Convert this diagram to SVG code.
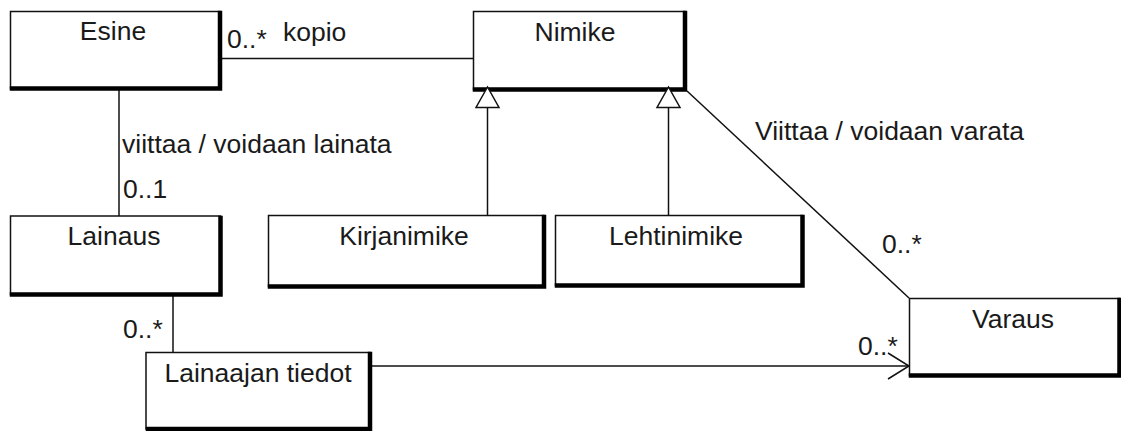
<svg xmlns="http://www.w3.org/2000/svg" width="1121" height="431" viewBox="0 0 1121 431">
  <style>
    .box { fill: #ffffff; stroke: #111111; stroke-width: 1.5; }
    .shadow { fill: none; stroke: #000000; stroke-width: 4.5; stroke-linecap: square; }
    .lbl { font-family: "Liberation Sans", Arial, sans-serif; font-size: 26.5px; fill: #1a1a1a; }
    .mid { text-anchor: middle; }
    .line { fill: none; stroke: #111111; stroke-width: 1.5; }
    .gen { fill: #ffffff; stroke: #111111; stroke-width: 1.5; }
  </style>
  <defs>
    <marker id="open" markerWidth="26" markerHeight="30" refX="24" refY="14" orient="auto" markerUnits="userSpaceOnUse">
      <path d="M 3 1 L 24 14 L 3 27" fill="none" stroke="#111111" stroke-width="1.5"/>
    </marker>
  </defs>

  <rect width="1121" height="431" fill="#ffffff"/>

  <!-- associations and generalizations -->
  <g id="connectors">
    <line class="line" x1="220" y1="58.5" x2="473" y2="58.5"/>
    <line class="line" x1="119" y1="89" x2="119" y2="216"/>
    <line class="line" x1="487.5" y1="107" x2="487.5" y2="215"/>
    <line class="line" x1="668.5" y1="107" x2="668.5" y2="215"/>
    <line class="line" x1="687" y1="91" x2="909" y2="298"/>
    <line class="line" x1="173" y1="294" x2="173" y2="352"/>
    <line class="line" x1="370" y1="366" x2="909" y2="366" marker-end="url(#open)"/>
  </g>

  <g id="esine">
    <rect class="box" x="10.5" y="11.5" width="209.5" height="77"/>
    <polyline class="shadow" points="220,13 220,88.5 12,88.5"/>
    <text class="lbl mid" x="113" y="40">Esine</text>
  </g>

  <g id="nimike">
    <rect class="box" x="473.5" y="11.5" width="211.5" height="78"/>
    <polyline class="shadow" points="685,13 685,89.5 475,89.5"/>
    <text class="lbl mid" x="575" y="41">Nimike</text>
  </g>

  <g id="kirjanimike">
    <rect class="box" x="268.5" y="215.5" width="275.5" height="71"/>
    <polyline class="shadow" points="544,217 544,286.5 270,286.5"/>
    <text class="lbl mid" x="404" y="245">Kirjanimike</text>
  </g>

  <g id="lehtinimike">
    <rect class="box" x="555.5" y="215.5" width="247" height="70"/>
    <polyline class="shadow" points="802.5,217 802.5,285.5 557,285.5"/>
    <text class="lbl mid" x="676" y="245">Lehtinimike</text>
  </g>

  <g id="lainaus">
    <rect class="box" x="10.5" y="216" width="210" height="78.5"/>
    <polyline class="shadow" points="220.5,218 220.5,294.5 12,294.5"/>
    <text class="lbl mid" x="114" y="245">Lainaus</text>
  </g>

  <g id="lainaajan-tiedot">
    <rect class="box" x="146" y="352.5" width="224" height="76.5"/>
    <polyline class="shadow" points="370,354 370,429 148,429"/>
    <text class="lbl mid" x="258" y="382">Lainaajan tiedot</text>
  </g>

  <g id="varaus">
    <rect class="box" x="909.5" y="298.5" width="210" height="77"/>
    <polyline class="shadow" points="1119.5,300 1119.5,375.5 911,375.5"/>
    <text class="lbl mid" x="1013" y="328">Varaus</text>
  </g>

  <!-- generalization triangles drawn over the parent's lower edge -->
  <g id="generalization-heads">
    <polygon class="gen" points="487.5,87 476,107.5 499,107.5"/>
    <polygon class="gen" points="668.5,87 657,107.5 680,107.5"/>
  </g>

  <!-- role names and multiplicities -->
  <g id="labels">
    <text class="lbl" x="227" y="48">0..*</text>
    <text class="lbl" x="283" y="41">kopio</text>
    <text class="lbl" x="122" y="153">viittaa / voidaan lainata</text>
    <text class="lbl" x="123" y="198">0..1</text>
    <text class="lbl" x="755" y="140">Viittaa / voidaan varata</text>
    <text class="lbl" x="882" y="253">0..*</text>
    <text class="lbl" x="123" y="338">0..*</text>
    <text class="lbl" x="858" y="355">0..*</text>
  </g>
</svg>
